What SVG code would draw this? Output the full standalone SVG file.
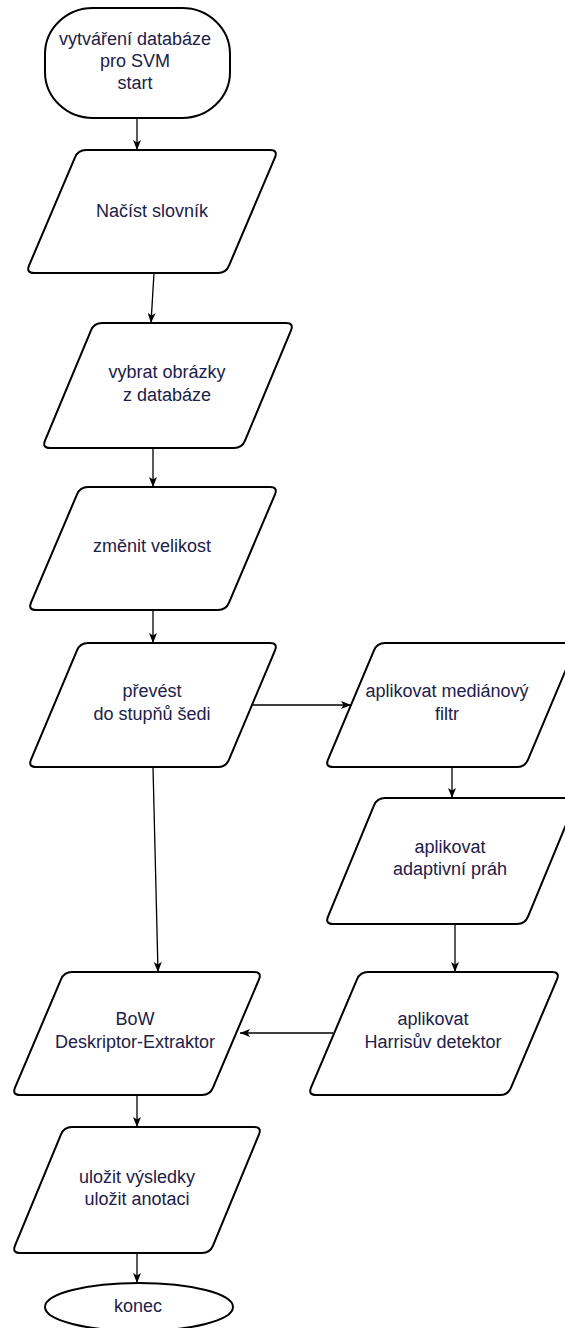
<svg xmlns="http://www.w3.org/2000/svg" width="565" height="1328" viewBox="0 0 565 1328">
<style>
.shape{fill:#ffffff;stroke:#000000;stroke-width:2}
.conn{fill:none;stroke:#000000;stroke-width:1.3}
.lbl{font-family:"Liberation Sans",Arial,sans-serif;font-size:18px;fill:#20204a;text-anchor:middle}
</style>
<defs>
<marker id="arr" viewBox="0 0 10 8" refX="10" refY="4" markerWidth="10" markerHeight="8" orient="auto" markerUnits="userSpaceOnUse">
<path d="M0,0 L10,4 L0,8 L2.5,4 Z" fill="#000"/>
</marker>
</defs>
<rect width="565" height="1328" fill="#ffffff"/>
<g id="connectors">
<line class="conn" x1="137" y1="118" x2="137" y2="150" marker-end="url(#arr)"/>
<line class="conn" x1="154" y1="273" x2="151" y2="323" marker-end="url(#arr)"/>
<line class="conn" x1="153" y1="448" x2="153" y2="487" marker-end="url(#arr)"/>
<line class="conn" x1="153" y1="610" x2="153" y2="643" marker-end="url(#arr)"/>
<line class="conn" x1="253" y1="705" x2="351" y2="705" marker-end="url(#arr)"/>
<line class="conn" x1="153" y1="767" x2="158" y2="972" marker-end="url(#arr)"/>
<line class="conn" x1="452" y1="767" x2="452" y2="798" marker-end="url(#arr)"/>
<line class="conn" x1="455" y1="924" x2="455" y2="972" marker-end="url(#arr)"/>
<line class="conn" x1="333" y1="1033" x2="240" y2="1033" marker-end="url(#arr)"/>
<line class="conn" x1="137" y1="1095" x2="137" y2="1127" marker-end="url(#arr)"/>
<line class="conn" x1="137" y1="1253" x2="137" y2="1283" marker-end="url(#arr)"/>
</g>
<g id="start">
<rect class="shape" x="45" y="8" width="185" height="110" rx="48" ry="46"/>
<text class="lbl" x="135" y="45">vytváření databáze</text>
<text class="lbl" x="135" y="67">pro SVM</text>
<text class="lbl" x="135" y="89">start</text>
</g>
<g id="nacist">
<path class="shape" d="M86,150 L270,150 Q278,150 275,157.4 L229,265.6 Q226,273 218,273 L34,273 Q26,273 29,265.6 L75,157.4 Q78,150 86,150 Z"/>
<text class="lbl" x="152" y="217">Načíst slovník</text>
</g>
<g id="vybrat">
<path class="shape" d="M102,323 L286,323 Q294,323 291,330.4 L245,440.6 Q242,448 234,448 L50,448 Q42,448 45,440.6 L91,330.4 Q94,323 102,323 Z"/>
<text class="lbl" x="167" y="378">vybrat obrázky</text>
<text class="lbl" x="167" y="401">z databáze</text>
</g>
<g id="zmenit">
<path class="shape" d="M88,487 L270,487 Q278,487 275,494.4 L229,602.6 Q226,610 218,610 L36,610 Q28,610 31,602.6 L77,494.4 Q80,487 88,487 Z"/>
<text class="lbl" x="152" y="552">změnit velikost</text>
</g>
<g id="prevest">
<path class="shape" d="M88,643 L270,643 Q278,643 275,650.4 L229,759.6 Q226,767 218,767 L36,767 Q28,767 31,759.6 L77,650.4 Q80,643 88,643 Z"/>
<text class="lbl" x="152" y="697">převést</text>
<text class="lbl" x="152" y="720">do stupňů šedi</text>
</g>
<g id="median">
<path class="shape" d="M385,643 L569,643 Q577,643 574,650.4 L528,759.6 Q525,767 517,767 L333,767 Q325,767 328,759.6 L374,650.4 Q377,643 385,643 Z"/>
<text class="lbl" x="447" y="697">aplikovat mediánový</text>
<text class="lbl" x="447" y="720">filtr</text>
</g>
<g id="adaptivni">
<path class="shape" d="M385,798 L569,798 Q577,798 574,805.4 L528,916.6 Q525,924 517,924 L333,924 Q325,924 328,916.6 L374,805.4 Q377,798 385,798 Z"/>
<text class="lbl" x="450" y="853">aplikovat</text>
<text class="lbl" x="450" y="875">adaptivní práh</text>
</g>
<g id="harris">
<path class="shape" d="M368,972 L552,972 Q560,972 557,979.4 L511,1087.6 Q508,1095 500,1095 L316,1095 Q308,1095 311,1087.6 L357,979.4 Q360,972 368,972 Z"/>
<text class="lbl" x="433" y="1025">aplikovat</text>
<text class="lbl" x="433" y="1048">Harrisův detektor</text>
</g>
<g id="bow">
<path class="shape" d="M72,972 L254,972 Q262,972 259,979.4 L213,1087.6 Q210,1095 202,1095 L20,1095 Q12,1095 15,1087.6 L61,979.4 Q64,972 72,972 Z"/>
<text class="lbl" x="135" y="1025">BoW</text>
<text class="lbl" x="135" y="1048">Deskriptor-Extraktor</text>
</g>
<g id="ulozit">
<path class="shape" d="M72,1127 L254,1127 Q262,1127 259,1134.4 L213,1245.6 Q210,1253 202,1253 L20,1253 Q12,1253 15,1245.6 L61,1134.4 Q64,1127 72,1127 Z"/>
<text class="lbl" x="137" y="1183">uložit výsledky</text>
<text class="lbl" x="137" y="1205">uložit anotaci</text>
</g>
<g id="konec">
<ellipse class="shape" cx="139" cy="1307" rx="94" ry="24"/>
<text class="lbl" x="138" y="1312">konec</text>
</g>
</svg>
